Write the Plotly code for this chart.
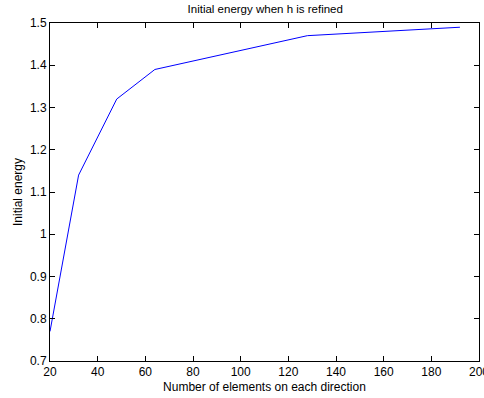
import plotly.graph_objects as go

elements = [20, 32, 48, 64, 128, 192]
energy = [0.77, 1.14, 1.32, 1.39, 1.47, 1.49]

x_ticks = [20, 40, 60, 80, 100, 120, 140, 160, 180, 200]
x_ticklabels = ["20", "40", "60", "80", "100", "120", "140", "160", "180", "200"]
y_ticks = [0.7, 0.8, 0.9, 1.0, 1.1, 1.2, 1.3, 1.4, 1.5]
y_ticklabels = ["0.7", "0.8", "0.9", "1", "1.1", "1.2", "1.3", "1.4", "1.5"]

font_family = "Liberation Sans, Arial, Helvetica, sans-serif"

fig = go.Figure()
fig.add_trace(go.Scatter(x=elements, y=energy, mode="lines",
                         line=dict(color="#0000ff", width=1), showlegend=False))

axis_common = dict(showline=True, linecolor="black", linewidth=1, mirror="ticks",
                   ticks="inside", ticklen=5, tickcolor="black", tickwidth=1,
                   showgrid=False, zeroline=False, ticklabeloverflow="allow",
                   automargin=False,
                   tickfont=dict(family=font_family, size=12, color="black"))

fig.update_xaxes(range=[20, 200], tickvals=x_ticks, ticktext=x_ticklabels,
                 title=dict(text="Number of elements on each direction",
                            font=dict(family=font_family, size=12, color="black"),
                            standoff=4),
                 **axis_common)
fig.update_yaxes(range=[0.7, 1.5], tickvals=y_ticks, ticktext=y_ticklabels,
                 title=dict(text="Initial energy",
                            font=dict(family=font_family, size=12, color="black"),
                            standoff=4),
                 **axis_common)

fig.update_layout(
    width=484, height=398,
    margin=dict(l=50, r=5, t=23, b=37, autoexpand=False),
    paper_bgcolor="white", plot_bgcolor="white",
    title=dict(text="Initial energy when h is refined", x=0.548, xanchor="center",
               y=0.988, yanchor="top",
               font=dict(family=font_family, size=11.5, color="black")),
)

fig.write_html("out.html")
